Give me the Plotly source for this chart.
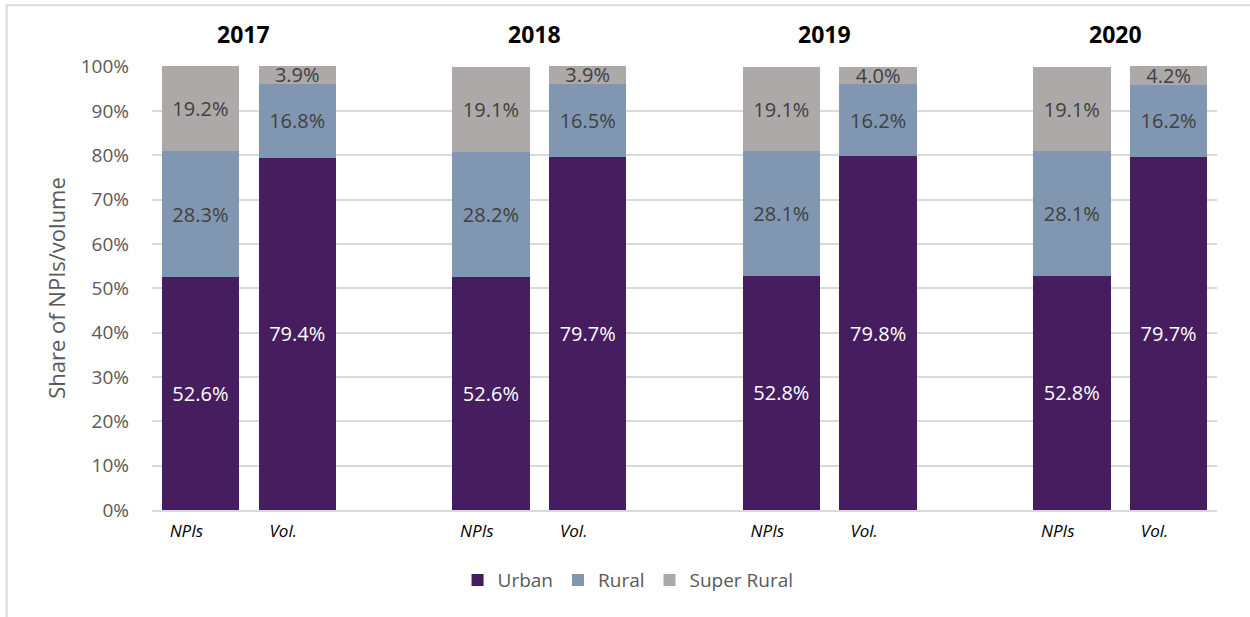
import plotly.graph_objects as go

years = ["2017", "2018", "2019", "2020"]
measures = ["NPIs", "Vol."]
series = ["Urban", "Rural", "Super Rural"]
colors = {"Urban": "#461E5F", "Rural": "#8197B1", "Super Rural": "#ADA9A9"}
text_colors = {"Urban": "#FFFFFF", "Rural": "#404040", "Super Rural": "#404040"}

npis_urban = [52.6, 52.6, 52.8, 52.8]
npis_rural = [28.3, 28.2, 28.1, 28.1]
npis_super = [19.2, 19.1, 19.1, 19.1]
vol_urban = [79.4, 79.7, 79.8, 79.7]
vol_rural = [16.8, 16.5, 16.2, 16.2]
vol_super = [3.9, 3.9, 4.0, 4.2]

values = {
    "Urban": (npis_urban, vol_urban),
    "Rural": (npis_rural, vol_rural),
    "Super Rural": (npis_super, vol_super),
}

# slot positions: NPIs, Vol., gap per year
xpos = []
ticktext = []
for i, y in enumerate(years):
    for j, m in enumerate(measures):
        xpos.append(i * 3 + j)
        ticktext.append(f"<i>{m}</i>")

fig = go.Figure()
for s in series:
    n, v = values[s]
    vals = []
    for i in range(len(years)):
        vals += [n[i], v[i]]
    fig.add_trace(go.Bar(
        x=xpos, y=vals, name=s, width=0.8,
        marker=dict(color=colors[s], line=dict(width=0)),
        text=[f"{val:.1f}%" for val in vals],
        textposition="inside", insidetextanchor="middle",
        textangle=0, constraintext="none",
        textfont=dict(color=text_colors[s], size=20, family="Open Sans"),
        cliponaxis=False,
        hoverinfo="skip",
    ))

for i, y in enumerate(years):
    fig.add_annotation(
        x=i * 3 + 0.45, y=1.0, xref="x", yref="paper", yanchor="bottom", yshift=14,
        text=f"<b>{y}</b>", showarrow=False,
        font=dict(size=23, color="#000000", family="Open Sans"),
    )

fig.add_shape(type="rect", xref="paper", yref="paper",
              x0=-0.1365, x1=1.1, y0=-0.25, y1=1.137,
              line=dict(color="#D9D9D9", width=2), fillcolor="rgba(0,0,0,0)", layer="below")

fig.update_layout(
    barmode="stack",
    width=1250, height=617,
    margin=dict(l=152, r=33, t=66, b=107),
    paper_bgcolor="white", plot_bgcolor="white",
    font=dict(family="Open Sans", color="#595959"),
    bargap=0.2,
    showlegend=True,
    legend=dict(orientation="h", x=0.447, xanchor="center", y=-0.158, yanchor="middle",
                font=dict(size=19, color="#595959"), itemwidth=30, traceorder="normal"),
    xaxis=dict(
        range=[-0.5, 10.5], tickmode="array", tickvals=xpos, ticktext=ticktext,
        tickfont=dict(size=17, color="#000000", family="Open Sans"),
        showgrid=False, zeroline=False, showline=True, linecolor="#D9D9D9", linewidth=2,
        ticks="", ticklabelshift=-14, ticklabelstandoff=5,
    ),
    yaxis=dict(
        range=[0, 100.15], tickmode="array", tickvals=list(range(0, 101, 10)),
        ticktext=[f"{t}%" for t in range(0, 101, 10)],
        tickfont=dict(size=19, color="#595959"),
        showgrid=True, gridcolor="#D9D9D9", gridwidth=1.5, zeroline=False,
        ticks="", ticklabelstandoff=22,
        title=dict(text="Share of NPIs/volume", font=dict(size=22, color="#595959"), standoff=8),
    ),
)

fig.write_html("out.html", post_script="document.body.style.margin='0px';",
               config={"displayModeBar": False})
